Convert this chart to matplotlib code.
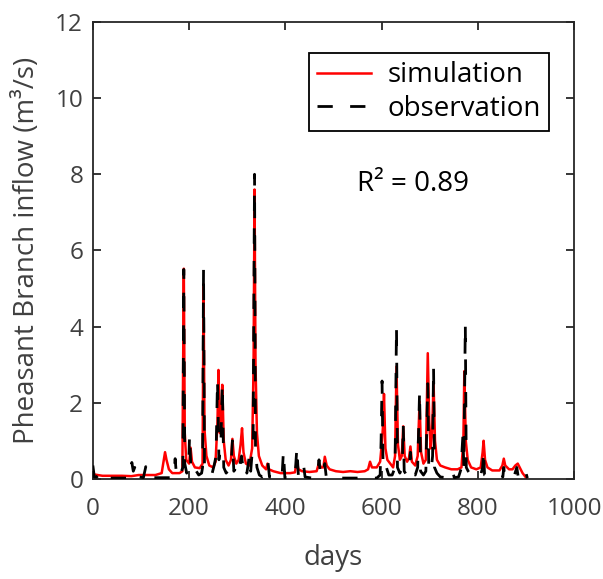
import matplotlib
matplotlib.use("Agg")
import matplotlib.pyplot as plt

# ---- data ----
sim_days = [0, 10, 20, 40, 60, 80, 95, 110, 130, 143, 150, 153, 158, 165, 180, 186, 189, 191, 194, 200,
            203, 206, 212, 222, 228, 230, 232, 236, 242, 250, 255, 259, 261, 264, 267, 269, 272, 276, 282, 287,
            290, 293, 298, 303, 307, 310, 313, 318, 325, 331, 334, 336, 338, 341, 345, 352, 360, 363, 366, 375,
            390, 410, 420, 424, 427, 435, 450, 465, 470, 474, 479, 482, 486, 492, 505, 520, 535, 550, 565, 572,
            576, 580, 590, 597, 601, 603, 605, 608, 612, 618, 624, 628, 631, 634, 638, 642, 645, 648, 653, 657,
            660, 663, 670, 675, 679, 682, 687, 692, 696, 699, 702, 705, 708, 711, 715, 722, 732, 745, 758, 766,
            770, 772, 775, 779, 786, 797, 806, 810, 812, 815, 820, 830, 845, 851, 854, 857, 865, 872, 878, 883,
            887, 893, 899, 901]
sim_vals = [0.12, 0.10, 0.08, 0.08, 0.08, 0.07, 0.10, 0.10, 0.10, 0.15, 0.70, 0.50, 0.25, 0.15, 0.15, 0.20, 5.52, 1.20, 0.50, 0.40,
            0.82, 0.45, 0.30, 0.28, 0.40, 5.12, 1.30, 0.60, 0.35, 0.30, 0.45, 1.50, 2.86, 1.20, 1.60, 2.47, 1.00, 0.50, 0.35, 0.50,
            1.05, 0.60, 0.40, 0.50, 0.90, 1.33, 0.70, 0.40, 0.35, 0.80, 3.00, 7.60, 3.00, 1.20, 0.60, 0.35, 0.25, 0.40, 0.25, 0.20,
            0.15, 0.15, 0.17, 0.48, 0.25, 0.20, 0.18, 0.20, 0.42, 0.30, 0.30, 0.58, 0.35, 0.25, 0.20, 0.18, 0.20, 0.18, 0.20, 0.25,
            0.45, 0.30, 0.30, 0.45, 1.00, 1.40, 2.23, 0.80, 0.50, 0.40, 0.30, 0.60, 2.95, 0.90, 0.50, 0.60, 1.38, 0.60, 0.45, 0.55,
            0.85, 0.45, 0.35, 0.60, 2.03, 0.70, 0.40, 0.50, 3.30, 1.50, 0.80, 1.20, 2.54, 1.00, 0.50, 0.35, 0.30, 0.25, 0.25, 0.30,
            1.00, 2.83, 1.00, 0.50, 0.30, 0.25, 0.30, 0.70, 1.00, 0.50, 0.30, 0.22, 0.22, 0.35, 0.53, 0.35, 0.25, 0.25, 0.35, 0.40,
            0.30, 0.15, 0.05, 0.02]

obs_days = [0, 3, 8, 14, 17, 25, 28, 35, 50, 70, 78, 81, 84, 87, 90, 93, 97, 105, 110, 113,
            125, 140, 160, 168, 171, 174, 180, 187, 189, 191, 195, 199, 201, 204, 210, 215, 220, 226, 228, 230,
            232, 236, 242, 248, 252, 256, 259, 262, 266, 269, 272, 277, 283, 287, 290, 293, 298, 302, 306, 309,
            312, 316, 320, 323, 325, 328, 333, 336, 338, 341, 346, 352, 360, 364, 367, 380, 393, 396, 399, 410,
            420, 424, 427, 432, 438, 441, 455, 466, 470, 473, 479, 482, 485, 495, 590, 597, 599, 601, 603, 606,
            610, 615, 622, 628, 631, 633, 638, 643, 645, 647, 652, 657, 660, 662, 670, 675, 679, 681, 687, 692,
            696, 698, 703, 706, 708, 710, 715, 722, 735, 745, 748, 751, 760, 765, 769, 771, 774, 776, 780, 786,
            795, 805, 810, 812, 814, 825, 840, 852, 854, 856, 865, 875, 881, 884, 893, 898, 903]
obs_vals = [0.35, 0.05, 0.05, 0.12, 0.05, 0.10, 0.03, 0.02, 0.02, 0.02, 0.05, 0.43, 0.20, 0.30, 0.15, 0.25, 0.05, 0.03, 0.32, 0.05,
            0.03, 0.03, 0.03, 0.05, 0.53, 0.05, 0.05, 0.30, 5.50, 0.40, 0.15, 0.30, 1.15, 0.20, 0.10, 0.20, 0.10, 0.15, 0.30, 5.52,
            0.30, 0.15, 0.10, 0.15, 0.35, 0.60, 2.60, 0.50, 0.90, 2.50, 0.30, 0.15, 0.25, 0.30, 1.00, 0.20, 0.30, 0.15, 0.40, 0.60,
            0.30, 0.40, 0.15, 0.40, 0.60, 0.20, 1.00, 8.00, 0.80, 0.30, 0.10, 0.05, 0.10, 0.43, 0.05, 0.03, 0.03, 0.72, 0.03, 0.03,
            0.05, 0.82, 0.10, 0.05, 0.35, 0.05, 0.02, 0.05, 0.50, 0.10, 0.10, 0.40, 0.05, 0.02, 0.02, 0.10, 1.00, 2.57, 0.40, 0.20,
            0.30, 0.10, 0.10, 0.30, 4.00, 0.30, 0.15, 0.30, 1.45, 0.20, 0.10, 0.20, 0.70, 0.15, 0.10, 0.30, 2.30, 0.20, 0.10, 0.20,
            2.50, 0.30, 0.20, 0.60, 2.95, 0.30, 0.15, 0.05, 0.03, 0.05, 0.20, 0.03, 0.05, 0.25, 1.15, 0.30, 4.07, 0.30, 0.20, 0.10,
            0.05, 0.05, 0.30, 0.75, 0.10, 0.03, 0.03, 0.05, 0.30, 0.05, 0.05, 0.05, 0.30, 0.05, 0.10, 0.25, 0.02]

x_ticks = [0, 200, 400, 600, 800, 1000]
y_ticks = [0, 2, 4, 6, 8, 10, 12]
r2_text = "R² = 0.89"

# ---- figure ----
plt.rcParams['font.family'] = ['Open Sans', 'DejaVu Sans']
plt.rcParams['lines.scale_dashes'] = False

fig = plt.figure(figsize=(6.03, 5.79), dpi=100)
ax = fig.add_axes([0.154, 0.173, 0.798, 0.789])

ax.plot(sim_days, sim_vals, color='#ff0000', lw=1.8, label='simulation', zorder=2)
ax.plot(obs_days, obs_vals, color='black', lw=2.0, dashes=(11, 12.5), label='observation', zorder=3)

ax.set_xlim(0, 1000)
ax.set_ylim(0, 12)
ax.set_xticks(x_ticks)
ax.set_yticks(y_ticks)

spine_col = '#262626'
for s in ax.spines.values():
    s.set_color(spine_col)
    s.set_linewidth(1.3)
ax.tick_params(direction='in', length=6, width=1.3, colors=spine_col,
               top=True, right=True, labelsize=17.5, labelcolor='#404040')
ax.tick_params(axis='x', pad=13)
ax.tick_params(axis='y', pad=7)

ax.set_xlabel('days', fontsize=20, color='#404040', labelpad=17)
ax.set_ylabel('Pheasant Branch inflow (m³/s)', fontsize=20, color='#404040', labelpad=10)

leg = ax.legend(loc='upper right', bbox_to_anchor=(0.948, 0.932), fontsize=20,
                frameon=True, fancybox=False, edgecolor='black', framealpha=1,
                handlelength=1.95, handletextpad=0.58, borderpad=0.3, labelspacing=0.2,
                borderaxespad=0)
leg.get_frame().set_linewidth(1.3)

ax.text(665, 7.74, r2_text, fontsize=20, color='black', ha='center', va='center')

fig.savefig('out.png', dpi=100)
